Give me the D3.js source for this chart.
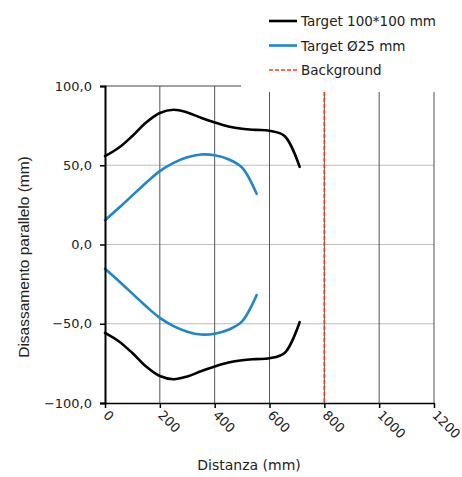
<!DOCTYPE html>
<html lang="it">
<head>
<meta charset="utf-8">
<title>Disassamento parallelo</title>
<script src="https://cdn.jsdelivr.net/npm/d3@7"></script>
<style>
  body { margin: 0; background: #fff; }
  text { font-family: "DejaVu Sans", Verdana, sans-serif; fill: #222; }
</style>
</head>
<body>
<script>
// distances (mm) and offsets (mm)
var blackX     = [0, 50, 100, 150, 200, 250, 300, 350, 400, 450, 500, 550, 600, 655, 710];
var blackUpper = [55.7, 61, 68.5, 77, 83, 85, 83.3, 80, 77, 74.5, 73, 72.3, 71.8, 68.5, 49];
var blackLower = [-55.7, -61, -68.5, -77, -83, -85, -83.3, -80, -77, -74.5, -73, -72.3, -71.8, -68.5, -49];
var blueX      = [0, 50, 100, 150, 200, 250, 300, 350, 400, 450, 500, 553];
var blueUpper  = [15.3, 23, 31, 39, 46.3, 51.5, 55, 56.8, 56.3, 53.8, 48.5, 32];
var blueLower  = [-15.3, -23, -31, -39, -46.3, -51.5, -55, -56.8, -56.3, -53.8, -48.5, -32];
var backgroundX = 800;

var xTicks = [0, 200, 400, 600, 800, 1000, 1200];
var yTicks = [-100, -50, 0, 50, 100];
var legendLabels = ["Target 100*100 mm", "Target \u00d825 mm", "Background"];

var W = 462, H = 477;
var x = d3.scaleLinear().domain([0, 1200]).range([105, 434]);
var y = d3.scaleLinear().domain([-100, 100]).range([403, 86]);

var svg = d3.select("body").append("svg").attr("width", W).attr("height", H);

// horizontal grid (light)
svg.append("g").selectAll("line").data([-50, 0, 50]).enter().append("line")
  .attr("x1", x(0)).attr("x2", x(1200))
  .attr("y1", function(d) { return y(d); }).attr("y2", function(d) { return y(d); })
  .attr("stroke", "#bdbdbd").attr("stroke-width", 1);

// top line
svg.append("line").attr("x1", x(0)).attr("x2", x(1200))
  .attr("y1", y(100)).attr("y2", y(100))
  .attr("stroke", "#444").attr("stroke-width", 1);

// vertical grid (dark)
svg.append("g").selectAll("line").data(xTicks.slice(1)).enter().append("line")
  .attr("x1", function(d) { return x(d); }).attr("x2", function(d) { return x(d); })
  .attr("y1", y(100)).attr("y2", y(-100))
  .attr("stroke", "#555").attr("stroke-width", 1);

// curves
var line = function(xs) {
  return d3.line().curve(d3.curveCatmullRom.alpha(0.5))
    .x(function(d, i) { return x(xs[i]); })
    .y(function(d) { return y(d); });
};
[[blackX, blackUpper, "#000"], [blackX, blackLower, "#000"],
 [blueX, blueUpper, "#1a87cf"], [blueX, blueLower, "#1a87cf"]].forEach(function(s) {
  svg.append("path").datum(s[1]).attr("d", line(s[0]))
    .attr("fill", "none").attr("stroke", s[2]).attr("stroke-width", 2.6)
    .attr("stroke-linecap", "round");
});

// background
svg.append("line").attr("x1", x(backgroundX)).attr("x2", x(backgroundX))
  .attr("y1", y(100)).attr("y2", y(-100))
  .attr("stroke", "#ff3b1f").attr("stroke-width", 1.6).attr("stroke-dasharray", "4,2");

// axes
var yAxis = svg.append("g").attr("transform", "translate(" + x(0) + ",0)")
  .call(d3.axisLeft(y).tickValues(yTicks).tickSize(5).tickPadding(8)
    .tickFormat(function(d) { return d3.format(".1f")(d).replace(".", ","); }));
yAxis.select(".domain").attr("stroke", "#000").attr("stroke-width", 2);
yAxis.selectAll(".tick line").attr("stroke", "#000").attr("stroke-width", 1.5);
yAxis.selectAll(".tick text").attr("font-size", 13).attr("fill", "#222")
  .attr("font-family", "DejaVu Sans, Verdana, sans-serif");

var xAxis = svg.append("g").attr("transform", "translate(0," + y(-100) + ")")
  .call(d3.axisBottom(x).tickValues(xTicks).tickSize(5).tickSizeOuter(0)
    .tickFormat(d3.format("d")));
xAxis.select(".domain").attr("stroke", "#000").attr("stroke-width", 1.6);
xAxis.selectAll(".tick line").attr("stroke", "#000").attr("stroke-width", 1.5);
xAxis.selectAll(".tick text").attr("font-size", 13).attr("fill", "#222")
  .attr("font-family", "DejaVu Sans, Verdana, sans-serif")
  .attr("text-anchor", "start").attr("x", 0).attr("y", 0).attr("dy", 0)
  .attr("transform", "translate(-3,13) rotate(45)");

// axis titles
svg.append("text").attr("x", 249).attr("y", 470).attr("text-anchor", "middle")
  .attr("font-size", 14).text("Distanza (mm)");
svg.append("text").attr("transform", "translate(29,257) rotate(-90)")
  .attr("text-anchor", "middle").attr("font-size", 15.5)
  .style("font-family", "Liberation Sans, Arial, sans-serif")
  .text("Disassamento parallelo (mm)");

// legend
var lg = svg.append("g");
lg.append("rect").attr("x", 241).attr("y", 0).attr("width", W - 241).attr("height", 92)
  .attr("fill", "#fff");
var legendStyles = [["#000", null, 2.6], ["#1a87cf", null, 2.6], ["#ff3b1f", "4,2", 1.6]];
legendLabels.forEach(function(t, i) {
  var ly = 21 + i * 24.5;
  lg.append("line").attr("x1", 269).attr("x2", 297).attr("y1", ly).attr("y2", ly)
    .attr("stroke", legendStyles[i][0]).attr("stroke-width", legendStyles[i][2])
    .attr("stroke-dasharray", legendStyles[i][1]);
  lg.append("text").attr("x", 301).attr("y", ly + 5).attr("font-size", 13.5).text(t);
});
</script>
</body>
</html>
